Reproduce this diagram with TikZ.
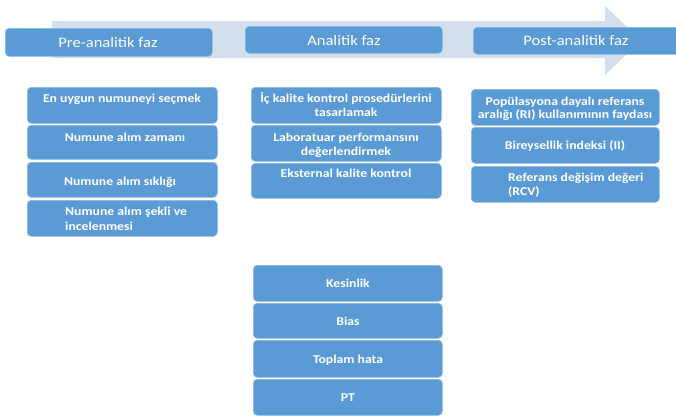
\documentclass[tikz,border=0pt]{standalone}
\usepackage{fontspec}
\setmainfont{Carlito}[FakeStretch=1.14]
\definecolor{boxblue}{HTML}{5B9BD5}
\definecolor{boxedge}{HTML}{8DB8E2}
\definecolor{arrowblue}{HTML}{D4DFEE}
\tikzset{
  box/.style={draw=boxedge, line width=0.6pt, fill=boxblue, rounded corners=4pt, inner sep=0pt, anchor=north west},
  txt/.style={text=white, font=\fontsize{12}{14}\selectfont\bfseries, inner sep=0pt, align=center, anchor=base},
  ltxt/.style={txt, align=left, anchor=base west},
  htxt/.style={text=white, font=\fontsize{14.5}{16}\selectfont, inner sep=0pt, anchor=base},
}
\begin{document}
\begin{tikzpicture}[x=1pt,y=1pt]
\useasboundingbox (0,0) rectangle (676,-418);
\fill[white] (0,0) rectangle (676,-418);
% big arrow
\fill[arrowblue] (52,-21) -- (605,-21) -- (605,-6) -- (641,-40.5) -- (605,-75) -- (605,-58) -- (52,-58) -- cycle;
% headers
\node[box, minimum width=207, minimum height=28] (hpre) at (5,-28) {};
\node[box, minimum width=197, minimum height=27] (hana) at (245,-26) {};
\node[box, minimum width=207, minimum height=27] (hpost) at (473,-27) {};
\node[htxt] (tpre) at (108,-47) {Pre-analitik faz};
\node[htxt] (tana) at (344,-45) {Analitik faz};
\node[htxt] (tpost) at (576,-45) {Post-analitik faz};
% left column
\node[box, minimum width=190, minimum height=36] (l1) at (27,-87) {};
\node[box, minimum width=190, minimum height=34] (l2) at (27,-125) {};
\node[box, minimum width=190, minimum height=35] (l3) at (27,-162) {};
\node[box, minimum width=190, minimum height=36] (l4) at (27,-200) {};
\node[txt] (tl1) at (122,-102) {En uygun numuneyi seçmek};
\node[txt] (tl2) at (125,-141) {Numune alım zamanı};
\node[txt] (tl3) at (120,-185) {Numune alım sıklığı};
\node[ltxt, font=\fontsize{12}{15}\selectfont\bfseries] (tl4) at (65,-230) {Numune alım şekli ve\\incelenmesi};
% middle column
\node[box, minimum width=190, minimum height=36] (m1) at (251,-87) {};
\node[box, minimum width=190, minimum height=36] (m2) at (251,-125) {};
\node[box, minimum width=190, minimum height=35] (m3) at (251,-163) {};
\node[txt] (tm1) at (346,-116) {İç kalite kontrol prosedürlerini\\tasarlamak};
\node[txt] (tm2) at (346,-155) {Laboratuar performansını\\değerlendirmek};
\node[txt] (tm3) at (346,-177) {Eksternal kalite kontrol};
% right column
\node[box, minimum width=188, minimum height=36] (r1) at (471,-89) {};
\node[box, minimum width=188, minimum height=36] (r2) at (471,-127) {};
\node[box, minimum width=188, minimum height=36] (r3) at (471,-166) {};
\node[txt, font=\fontsize{12}{13}\selectfont\bfseries] (tr1) at (565,-118) {Popülasyona dayalı referans\\aralığı (RI) kullanımının faydası};
\node[txt] (tr2) at (565,-149) {Bireysellik indeksi (II)};
\node[ltxt] (tr3) at (508,-195) {Referans değişim değeri\\(RCV)};
% bottom column
\node[box, minimum width=189, minimum height=36] (b1) at (253,-265) {};
\node[box, minimum width=189, minimum height=35] (b2) at (253,-303) {};
\node[box, minimum width=189, minimum height=37] (b3) at (253,-340) {};
\node[box, minimum width=189, minimum height=36] (b4) at (253,-379) {};
\node[txt] (tb1) at (348,-287) {Kesinlik};
\node[txt] (tb2) at (348,-325) {Bias};
\node[txt] (tb3) at (348,-363) {Toplam hata};
\node[txt] (tb4) at (348,-401) {PT};
\end{tikzpicture}
\end{document}
